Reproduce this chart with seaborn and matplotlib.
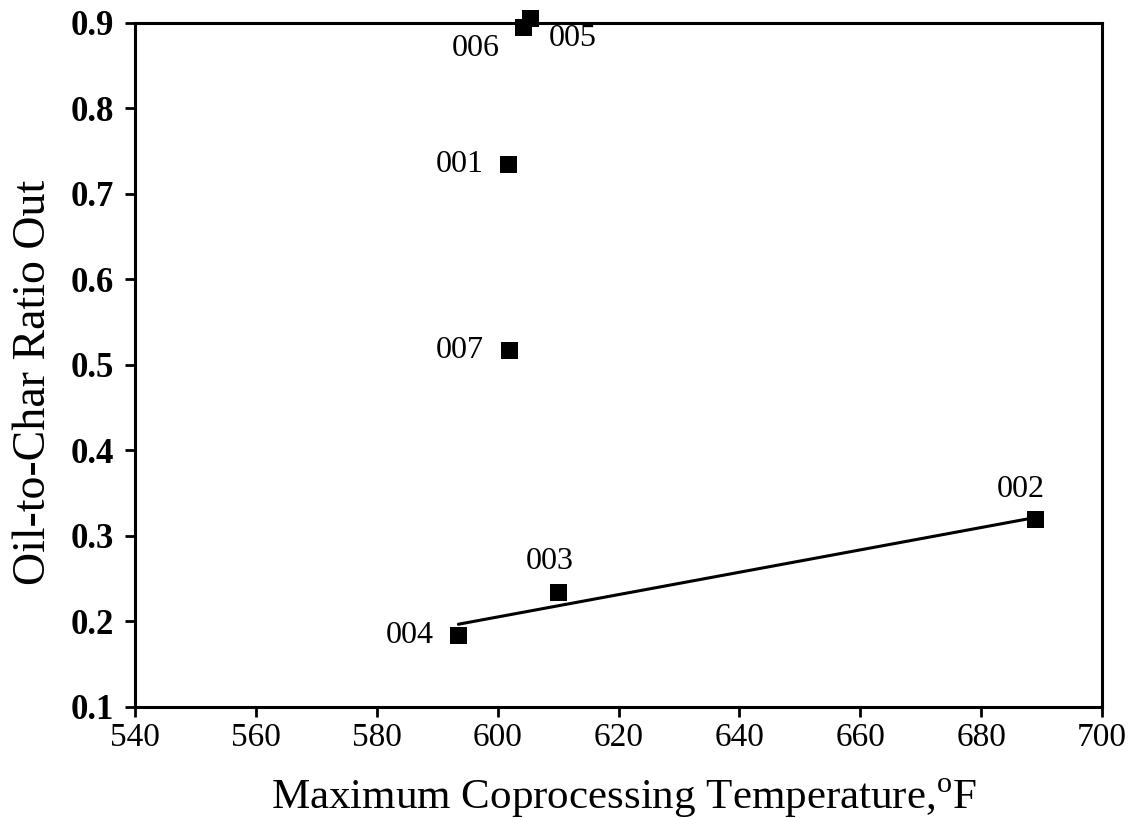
import matplotlib
matplotlib.use("Agg")
import matplotlib.pyplot as plt
import seaborn as sns
import pandas as pd

# Data
run_ids = ["001", "002", "003", "004", "005", "006", "007"]
max_temp_f = [601.8, 689.0, 610.1, 593.5, 605.4, 604.2, 601.9]
oil_to_char = [0.734, 0.319, 0.234, 0.184, 0.905, 0.895, 0.517]
trend_runs = ["004", "003", "002"]

x_ticks = [540, 560, 580, 600, 620, 640, 660, 680, 700]
y_ticks = [0.1, 0.2, 0.3, 0.4, 0.5, 0.6, 0.7, 0.8, 0.9]

# label offsets (points) and alignment per run
label_pos = {
    "001": ((-18, 0), "right", "center"),
    "002": ((-11, 11), "center", "bottom"),
    "003": ((-6.5, 12), "center", "bottom"),
    "004": ((-18, 0), "right", "center"),
    "005": ((13, -14), "left", "center"),
    "006": ((-17, -15), "right", "center"),
    "007": ((-18, 0), "right", "center"),
}

df = pd.DataFrame({"run": run_ids, "temp": max_temp_f, "ratio": oil_to_char})
trend = df[df["run"].isin(trend_runs)]

sns.set_style("ticks")
plt.rcParams["font.family"] = ["Liberation Serif", "DejaVu Serif"]
plt.rcParams["mathtext.fontset"] = "custom"
plt.rcParams["mathtext.rm"] = "Liberation Serif"
for k in ["text.color", "axes.labelcolor", "xtick.color", "ytick.color", "axes.edgecolor"]:
    plt.rcParams[k] = "black"

fig = plt.figure(figsize=(11.3, 8.18), dpi=100)
ax = fig.add_axes([0.1195, 0.1357, 0.8558, 0.8362])

sns.regplot(data=trend, x="temp", y="ratio", ci=None, scatter=False,
            color="black", line_kws={"linewidth": 2.2}, ax=ax)
sns.scatterplot(data=df, x="temp", y="ratio", marker="s", s=150,
                color="black", edgecolor="none", ax=ax, zorder=3, clip_on=False)

for r, t, v in zip(run_ids, max_temp_f, oil_to_char):
    off, ha, va = label_pos[r]
    ax.annotate(r, (t, v), xytext=off, textcoords="offset points",
                ha=ha, va=va, fontsize=23, annotation_clip=False)

ax.set_xlim(540, 700)
ax.set_ylim(0.1, 0.9)
ax.set_xticks(x_ticks)
ax.set_yticks(y_ticks)
ax.set_yticklabels([f"{v:.1f}" for v in y_ticks], fontsize=25, fontweight="bold")
ax.set_xticklabels([str(v) for v in x_ticks], fontsize=24)

for s in ax.spines.values():
    s.set_visible(True)
    s.set_linewidth(2.2)
    s.set_color("black")
ax.tick_params(axis="both", direction="out", length=7, width=2, color="black")
ax.tick_params(axis="x", pad=4)
ax.tick_params(axis="y", pad=8)

ax.set_xlabel(r"Maximum Coprocessing Temperature,$^{\mathrm{o}}$F", fontsize=31)
ax.xaxis.set_label_coords(0.506, -0.102)
ax.set_ylabel("Oil-to-Char Ratio Out", fontsize=33)
ax.yaxis.set_label_coords(-0.083, 0.475)

fig.savefig("out.png", dpi=100)
